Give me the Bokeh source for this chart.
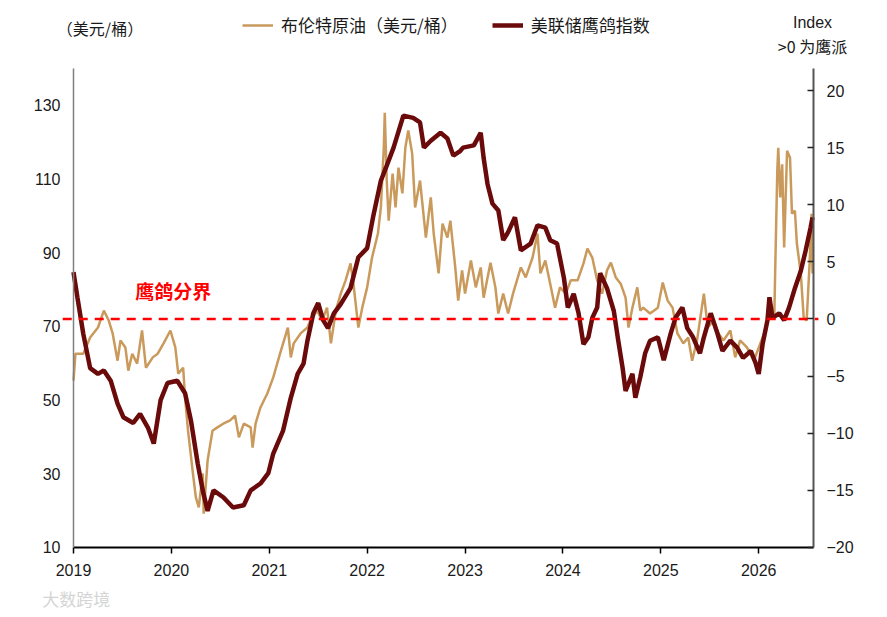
from bokeh.plotting import figure
from bokeh.models import Range1d, LinearAxis, FixedTicker, Label, Legend, LegendItem
from bokeh.embed import file_html
from bokeh.resources import INLINE

# Brent crude, USD/bbl (left axis)
brent_x = [2019.00, 2019.02, 2019.10, 2019.17, 2019.25, 2019.31, 2019.36, 2019.40, 2019.45, 2019.48,
           2019.53, 2019.56, 2019.60, 2019.65, 2019.70, 2019.74, 2019.81, 2019.86, 2019.92, 2019.99,
           2020.04, 2020.07, 2020.12, 2020.14, 2020.17, 2020.22, 2020.25, 2020.28, 2020.32, 2020.33,
           2020.37, 2020.42, 2020.47, 2020.53, 2020.60, 2020.65, 2020.69, 2020.74, 2020.81, 2020.83,
           2020.86, 2020.91, 2020.98, 2021.04, 2021.11, 2021.19, 2021.22, 2021.25, 2021.32, 2021.39,
           2021.42, 2021.49, 2021.54, 2021.59, 2021.63, 2021.68, 2021.73, 2021.78, 2021.83, 2021.86,
           2021.91, 2021.95, 2022.00, 2022.05, 2022.11, 2022.14, 2022.17, 2022.18, 2022.20, 2022.22,
           2022.26, 2022.29, 2022.32, 2022.36, 2022.39, 2022.42, 2022.46, 2022.49, 2022.54, 2022.60,
           2022.65, 2022.68, 2022.73, 2022.77, 2022.82, 2022.85, 2022.90, 2022.93, 2022.97, 2023.00,
           2023.06, 2023.11, 2023.16, 2023.19, 2023.26, 2023.31, 2023.34, 2023.39, 2023.44, 2023.49,
           2023.57, 2023.62, 2023.69, 2023.74, 2023.77, 2023.82, 2023.87, 2023.92, 2023.97, 2024.03,
           2024.08, 2024.15, 2024.21, 2024.25, 2024.30, 2024.35, 2024.40, 2024.45, 2024.49, 2024.54,
           2024.59, 2024.64, 2024.67, 2024.71, 2024.76, 2024.79, 2024.82, 2024.89, 2024.97, 2025.02,
           2025.07, 2025.12, 2025.17, 2025.23, 2025.28, 2025.32, 2025.37, 2025.44, 2025.48, 2025.54,
           2025.59, 2025.64, 2025.71, 2025.76, 2025.81, 2025.88, 2025.95, 2026.04, 2026.07, 2026.12,
           2026.16, 2026.17, 2026.19, 2026.20, 2026.22, 2026.24, 2026.26, 2026.29, 2026.32, 2026.34,
           2026.37, 2026.39, 2026.43, 2026.46, 2026.49, 2026.52, 2026.54, 2026.55]
brent_y = [55.3, 62.6, 62.6, 67.0, 69.7, 74.3, 71.6, 68.1, 60.7, 66.2,
           64.3, 58.0, 62.6, 59.9, 68.9, 58.8, 61.6, 62.6, 65.4, 68.9,
           64.3, 57.2, 58.8, 50.7, 41.7, 30.1, 23.6, 20.9, 30.1, 19.2,
           33.6, 41.7, 42.6, 43.6, 44.5, 45.8, 39.9, 43.6, 42.6, 37.1,
           43.6, 48.0, 51.8, 56.1, 62.6, 69.7, 61.6, 65.4, 68.1, 69.7,
           71.6, 74.3, 71.6, 75.1, 65.4, 74.3, 78.9, 82.5, 87.1, 81.6,
           69.7, 75.1, 80.6, 88.7, 95.2, 102.3, 118.5, 128.0, 109.6, 98.7,
           111.5, 102.3, 113.1, 106.1, 118.5, 123.2, 116.9, 102.3, 109.6, 94.1,
           105.0, 95.2, 84.4, 97.9, 94.1, 98.7, 86.0, 77.0, 85.2, 78.9,
           87.9, 80.6, 86.0, 77.8, 87.3, 80.6, 73.5, 78.9, 73.5, 78.9,
           86.0, 83.3, 88.7, 95.2, 84.4, 87.9, 81.6, 75.1, 80.6, 78.9,
           82.5, 82.5, 87.1, 91.1, 88.7, 82.5, 78.9, 85.2, 87.3, 83.3,
           81.6, 77.8, 69.7, 75.1, 80.6, 74.3, 75.1, 73.5, 75.1, 81.9,
           77.0, 75.1, 68.1, 65.4, 67.0, 60.7, 66.2, 78.9, 69.7, 71.6,
           68.1, 66.2, 68.9, 61.6, 66.2, 64.3, 60.7, 67.0, 68.9, 76.2,
           73.5, 87.0, 112.3, 118.5, 105.0, 114.0, 91.4, 117.7, 115.8, 100.6,
           101.4, 92.5, 84.4, 72.4, 71.6, 87.1, 100.6, 84.4]

# Fed hawk-dove index (right axis)
fed_x = [2019.00, 2019.04, 2019.10, 2019.17, 2019.25, 2019.31, 2019.38, 2019.45, 2019.51, 2019.61,
         2019.68, 2019.76, 2019.82, 2019.89, 2019.96, 2020.06, 2020.14, 2020.20, 2020.27, 2020.32,
         2020.37, 2020.43, 2020.53, 2020.63, 2020.74, 2020.81, 2020.91, 2020.99, 2021.04, 2021.14,
         2021.22, 2021.29, 2021.35, 2021.39, 2021.45, 2021.50, 2021.55, 2021.60, 2021.66, 2021.73,
         2021.83, 2021.91, 2022.00, 2022.06, 2022.14, 2022.19, 2022.27, 2022.37, 2022.47, 2022.54,
         2022.58, 2022.65, 2022.75, 2022.82, 2022.88, 2022.95, 2022.98, 2023.09, 2023.16, 2023.19,
         2023.23, 2023.28, 2023.34, 2023.39, 2023.44, 2023.51, 2023.57, 2023.67, 2023.74, 2023.82,
         2023.87, 2023.94, 2024.01, 2024.05, 2024.11, 2024.16, 2024.21, 2024.26, 2024.30, 2024.35,
         2024.38, 2024.45, 2024.52, 2024.56, 2024.61, 2024.64, 2024.71, 2024.74, 2024.79, 2024.84,
         2024.89, 2024.97, 2025.03, 2025.10, 2025.15, 2025.22, 2025.27, 2025.33, 2025.40, 2025.44,
         2025.51, 2025.58, 2025.63, 2025.71, 2025.78, 2025.84, 2025.92, 2025.97, 2026.00, 2026.04,
         2026.09, 2026.11, 2026.14, 2026.21, 2026.26, 2026.31, 2026.37, 2026.43, 2026.48, 2026.53,
         2026.55]
fed_y = [4.1, 1.9, -1.3, -4.3, -4.8, -4.5, -5.4, -7.4, -8.6, -9.1,
         -8.3, -9.5, -10.9, -7.1, -5.6, -5.4, -6.5, -8.9, -12.7, -15.0,
         -16.8, -15.0, -15.6, -16.5, -16.3, -15.0, -14.4, -13.5, -11.8, -9.8,
         -6.9, -4.8, -3.9, -1.9, 0.5, 1.4, -0.1, -0.8, 0.5, 1.3,
         2.7, 5.4, 6.2, 8.9, 12.1, 13.2, 15.0, 17.8, 17.6, 17.2,
         15.0, 15.6, 16.3, 15.8, 14.3, 14.7, 15.0, 15.2, 16.3, 14.1,
         11.8, 10.1, 9.5, 6.9, 7.6, 8.9, 6.0, 6.6, 8.2, 8.0,
         6.9, 6.6, 3.6, 1.0, 2.2, 0.5, -2.2, -1.6, 0.1, 1.0,
         4.0, 2.7, 0.7, -1.6, -4.3, -6.3, -4.8, -6.9, -5.1, -3.0,
         -1.9, -1.6, -3.6, -1.3, 0.1, 1.0, -0.8, -1.6, -3.0, -1.6,
         0.5, -1.3, -2.8, -1.9, -2.5, -3.4, -2.8, -3.9, -4.8, -2.2,
         -0.1, 1.9, 0.1, 0.5, -0.1, 1.0, 2.7, 4.2, 6.0, 8.0,
         8.9]

year_ticks = [2019, 2020, 2021, 2022, 2023, 2024, 2025, 2026]
left_ticks = [10, 30, 50, 70, 90, 110, 130]
right_ticks = [-20, -15, -10, -5, 0, 5, 10, 15, 20]
hawk_dove_line = 0

# axis extents of the drawn chart
x_start, x_end = 2019, 2026.56
left_lo, left_hi = 10, 140
right_lo, right_hi = -20, 21.93

brent_color = "#C99A5C"
fed_color = "#6B0A0A"
num_font = "Liberation Sans"
cjk_font = "Noto Sans CJK SC"

# the frame covers the whole canvas so header texts, tick labels and legend are not clipped;
# axes are pinned with fixed_location and limited with bounds
p = figure(width=880, height=616, x_range=Range1d(2018.2542, 2027.2444), y_range=Range1d(-8.727, 157.1),
           output_backend="svg", toolbar_location=None, tools="",
           min_border_left=0, min_border_right=0, min_border_top=5, min_border_bottom=0)
p.extra_y_ranges = {"fed": Range1d(-26.04, 27.44)}
p.outline_line_color = None
p.xgrid.visible = False
p.ygrid.visible = False

r_brent = p.line(brent_x, brent_y, line_color=brent_color, line_width=2.5)
r_fed = p.line(fed_x, fed_y, line_color=fed_color, line_width=4.5, y_range_name="fed")

# hawk / dove boundary, runs a little past both axes as in the original
p.line([x_start - 0.11, x_end + 0.05], [hawk_dove_line, hawk_dove_line], y_range_name="fed",
       line_color="#FF0000", line_width=2.5, line_dash="9 7")
p.add_layout(Label(x=2020.02, y=79.7, text="鹰鸽分界", text_font=cjk_font, text_font_size="19px",
                   text_font_style="bold", text_color="#FF0000", text_align="center",
                   text_baseline="middle"))

# axes
xa = p.xaxis[0]
xa.ticker = FixedTicker(ticks=year_ticks)
xa.fixed_location = left_lo
xa.bounds = (x_start, x_end)
xa.major_label_overrides = {y: str(y) for y in year_ticks}
xa.axis_line_color = "black"
xa.axis_line_width = 2
xa.major_tick_out = 6
xa.major_tick_in = 0
xa.major_tick_line_color = "black"
xa.major_tick_line_width = 1.5
xa.minor_tick_line_color = None
xa.major_label_standoff = 11
xa.major_label_text_font = num_font
xa.major_label_text_font_size = "16px"
xa.major_label_text_color = "#1a1a1a"

ya = p.yaxis[0]
ya.ticker = FixedTicker(ticks=left_ticks)
ya.fixed_location = x_start
ya.bounds = (left_lo, left_hi)
ya.axis_line_color = "#808080"
ya.axis_line_width = 1.5
ya.major_tick_line_color = None
ya.major_tick_out = 0
ya.major_tick_in = 0
ya.minor_tick_line_color = None
ya.major_label_standoff = 13
ya.major_label_text_font = num_font
ya.major_label_text_font_size = "16px"
ya.major_label_text_color = "#1a1a1a"

ra = LinearAxis(y_range_name="fed", ticker=FixedTicker(ticks=right_ticks), bounds=(right_lo, right_hi),
                fixed_location=x_end)
ra.axis_line_color = "#555555"
ra.axis_line_width = 2
ra.major_tick_in = 6
ra.major_tick_out = 0
ra.major_tick_line_color = "#222222"
ra.major_tick_line_width = 1.5
ra.minor_tick_line_color = None
ra.major_label_standoff = 13
ra.major_label_text_font = num_font
ra.major_label_text_font_size = "16px"
ra.major_label_text_color = "#1a1a1a"
p.add_layout(ra, "right")

# header texts
p.add_layout(Label(x=2018.83, y=151.1, text="（美元/桶）", text_font=cjk_font, text_font_size="16px",
                   text_color="#1a1a1a", text_baseline="middle"))
p.add_layout(Label(x=2026.55, y=152.5, text="Index", text_font=num_font, text_font_size="16px",
                   text_color="#1a1a1a", text_align="center", text_baseline="middle"))
p.add_layout(Label(x=2026.55, y=146.2, text=">0 为鹰派", text_font=cjk_font, text_font_size="16px",
                   text_color="#1a1a1a", text_align="center", text_baseline="middle"))

legend = Legend(items=[LegendItem(label="布伦特原油（美元/桶）", renderers=[r_brent]),
                       LegendItem(label="美联储鹰鸽指数", renderers=[r_fed])],
                location=(242, 579), orientation="horizontal")
legend.label_text_font = cjk_font
legend.label_text_font_size = "17px"
legend.label_text_color = "#1a1a1a"
legend.glyph_width = 31
legend.glyph_height = 20
legend.label_height = 20
legend.label_standoff = 8
legend.spacing = 34
legend.padding = 0
legend.margin = 0
legend.border_line_color = None
legend.background_fill_alpha = 0
p.add_layout(legend)

# source watermark, bottom left
p.add_layout(Label(x=2018.68, y=-3.8, text="大数跨境", text_font=cjk_font, text_font_size="17px",
                   text_color="#d4d4d4", text_baseline="middle"))

open("out.html", "w").write(file_html(p, INLINE))
